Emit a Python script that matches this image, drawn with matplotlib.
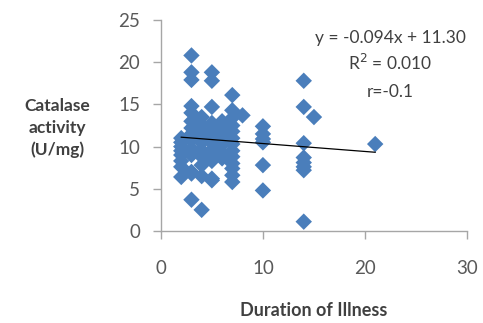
import matplotlib
matplotlib.use("Agg")
import matplotlib.pyplot as plt
import numpy as np

# Duration of illness (years) and catalase activity (U/mg)
duration = [
    2, 2, 2, 2, 2, 2, 2, 2,
    3, 3, 3, 3, 3, 3, 3, 3, 3, 3, 3, 3, 3, 3,
    4, 4, 4, 4, 4, 4, 4, 4, 4, 4,
    5, 5, 5, 5, 5, 5, 5, 5, 5, 5, 5, 5,
    6, 6, 6, 6, 6, 6, 6,
    7, 7, 7, 7, 7, 7, 7, 7, 7, 7, 7, 7, 7,
    8,
    10, 10, 10, 10, 10, 10,
    14, 14, 14, 14, 14, 14, 14, 14,
    15,
    21,
]
catalase = [
    11.0, 10.5, 10.0, 9.5, 8.3, 7.6, 6.4, 9.0,
    20.8, 18.8, 17.9, 14.8, 14.0, 13.0, 12.2, 11.5, 10.8, 9.8, 9.0, 7.0, 6.8, 3.7,
    13.5, 12.6, 11.8, 11.0, 10.5, 9.6, 8.8, 7.8, 6.5, 2.5,
    18.8, 17.8, 14.7, 12.8, 12.0, 11.2, 10.4, 9.6, 9.0, 8.3, 6.2, 6.0,
    13.0, 12.3, 11.6, 11.0, 10.2, 9.3, 8.6,
    16.1, 14.3, 13.4, 12.5, 11.8, 11.0, 10.3, 9.5, 8.8, 8.0, 7.4, 6.6, 5.8,
    13.7,
    12.4, 11.5, 10.9, 10.5, 7.8, 4.8,
    17.8, 14.7, 10.4, 8.7, 8.1, 7.6, 7.2, 1.1,
    13.5,
    10.3,
]

# Linear trend line reported on the chart
slope = -0.094
intercept = 11.30
r_squared = 0.010
r_value = -0.1

x_ticks = [0, 10, 20, 30]
y_ticks = [0, 5, 10, 15, 20, 25]

plt.rcParams["font.family"] = ["Lato", "DejaVu Sans"]

fig = plt.figure(figsize=(4.83, 3.23), dpi=100)
ax = fig.add_axes([0.333, 0.285, 0.634, 0.653])

ax.scatter(duration, catalase, marker="D", s=70, color="#4A7EBB",
           edgecolors="none", zorder=3)

xs = np.array([min(duration), max(duration)])
ax.plot(xs, slope * xs + intercept, color="black", lw=0.9, zorder=4)

ax.set_xlim(0, 30)
ax.set_ylim(0, 25)
ax.set_xticks(x_ticks)
ax.set_yticks(y_ticks)

for side in ("top", "right"):
    ax.spines[side].set_visible(False)
for side in ("left", "bottom"):
    ax.spines[side].set_color("#A6A6A6")
    ax.spines[side].set_linewidth(1.0)
ax.tick_params(axis="both", colors="#A6A6A6", labelcolor="#595959",
               labelsize=13.5, length=6, width=1.0, direction="out")
ax.tick_params(axis="y", pad=9)
ax.tick_params(axis="x", pad=15)

text_color = "#404040"
ax.text(0.995, 0.915, f"y = {slope}x + {intercept:.2f}", transform=ax.transAxes,
        ha="right", va="center", fontsize=12.5, color=text_color)
ax.text(0.75, 0.796, f"R$^2$ = {r_squared:.3f}", transform=ax.transAxes,
        ha="center", va="center", fontsize=12.5, color=text_color)
ax.text(0.75, 0.66, f"r={r_value}", transform=ax.transAxes,
        ha="center", va="center", fontsize=12.5, color=text_color)

fig.text(57 / 483, 1 - 128 / 323, "Catalase\nactivity\n(U/mg)", ha="center",
         va="center", fontsize=12.5, fontweight="bold", color=text_color,
         linespacing=1.45)
fig.text(314 / 483, 1 - 310 / 323, "Duration of Illness", ha="center",
         va="center", fontsize=13, fontweight="bold", color=text_color)

fig.savefig("out.png", dpi=100)
